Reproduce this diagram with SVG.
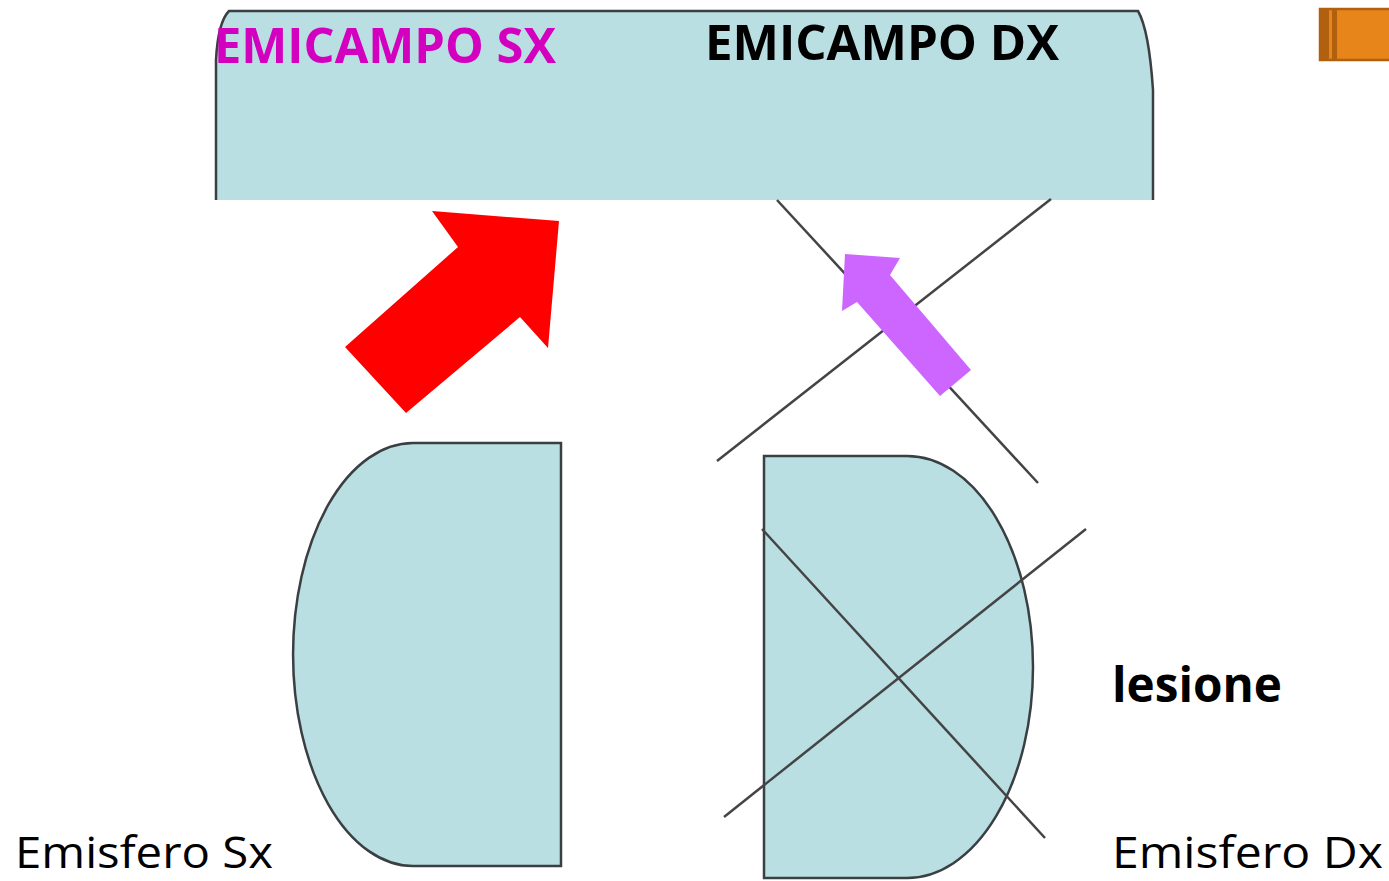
<svg xmlns="http://www.w3.org/2000/svg" width="1389" height="881" viewBox="0 0 1389 881">
<style>
.shape{fill:#b9dfe3;stroke:#3a3f42;stroke-width:2.5}
.ln{stroke:#444;stroke-width:2.5;fill:none}
.t{font-family:"Open Sans","Liberation Sans",sans-serif}
.b{font-weight:bold}
</style>
<rect width="1389" height="881" fill="#ffffff"/>
<g id="banner">
<path d="M216,200 L216,60 Q218,22 229,11 L1138,11 Q1149,30 1153,90 L1153,200 Z" fill="#b9dfe3"/>
<path d="M216,200 L216,60 Q218,22 229,11 L1138,11 Q1149,30 1153,90 L1153,200" fill="none" stroke="#3a3f42" stroke-width="2.5"/>
<text class="t b" x="214" y="63" font-size="48" fill="#d400c0" textLength="342" lengthAdjust="spacingAndGlyphs">EMICAMPO SX</text>
<text class="t b" x="705" y="60" font-size="48" fill="#000000" textLength="354" lengthAdjust="spacingAndGlyphs">EMICAMPO DX</text>
</g>
<g id="icon">
<rect x="1320" y="9" width="72" height="51" fill="#e8851a" stroke="#b0600e" stroke-width="2.5"/>
<rect x="1321" y="9" width="8" height="51" fill="#b0600e"/>
<rect x="1332" y="9" width="5" height="51" fill="#b0600e"/>
</g>
<g id="arrow-red">
<polygon points="345,347 406,413 520,317 548,348 559,221 432,211 458,247" fill="#ff0000"/>
</g>
<g id="hemisphere-sx">
<path class="shape" d="M561,443 L413,443 A120,211.5 0 0 0 413,866 L561,866 Z"/>
<text class="t" x="15" y="868" font-size="44" fill="#000000" textLength="258" lengthAdjust="spacingAndGlyphs">Emisfero Sx</text>
</g>
<g id="hemisphere-dx">
<path class="shape" d="M764,456 L907,456 A126,211 0 0 1 907,878 L764,878 Z"/>
<text class="t" x="1112" y="868" font-size="44" fill="#000000" textLength="271" lengthAdjust="spacingAndGlyphs">Emisfero Dx</text>
</g>
<g id="lesione">
<text class="t b" x="1112" y="702" font-size="48" fill="#000000" textLength="170" lengthAdjust="spacingAndGlyphs">lesione</text>
</g>
<g id="connectors">
<line class="ln" x1="777" y1="200" x2="1038" y2="483"/>
<line class="ln" x1="1051" y1="199" x2="717" y2="461"/>
<line class="ln" x1="762" y1="529" x2="1045" y2="838"/>
<line class="ln" x1="1086" y1="529" x2="724" y2="817"/>
</g>
<g id="arrow-purple">
<polygon points="845,254 900,258 890,275 971,370 940,396 857,302 842,311" fill="#cc66ff"/>
</g>
</svg>
